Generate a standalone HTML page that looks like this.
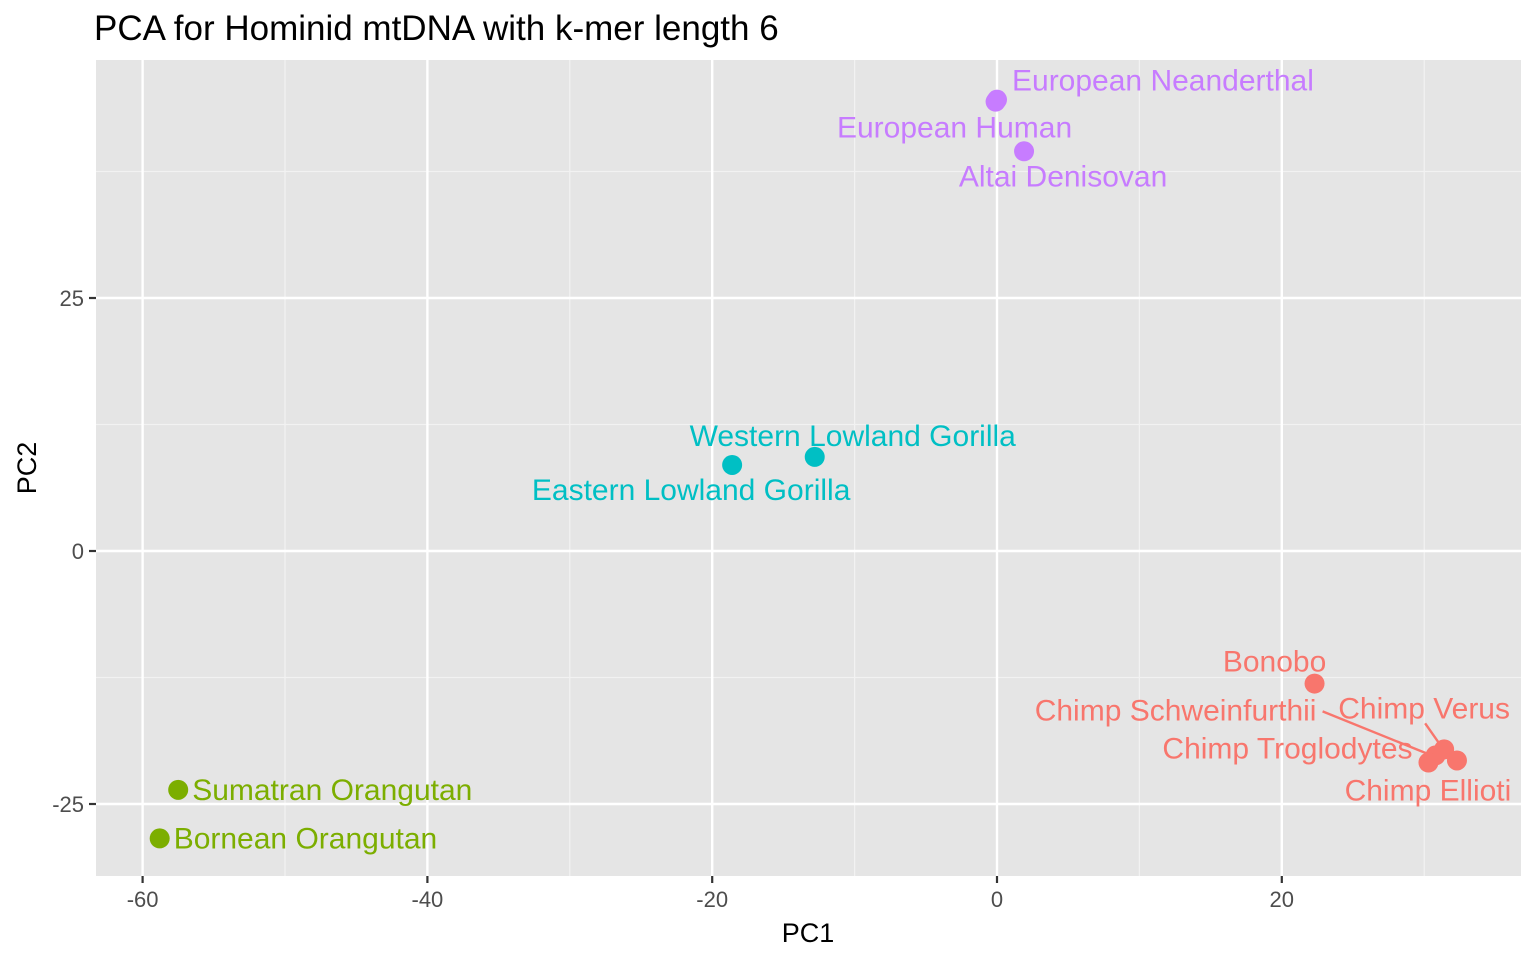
<!DOCTYPE html>
<html><head><meta charset="utf-8"><style>
body{margin:0;background:#fff;}
svg text{font-family:"Liberation Sans",Arial,sans-serif;}
</style></head><body>
<svg id="chart" width="1536" height="960" xmlns="http://www.w3.org/2000/svg">
<rect x="0" y="0" width="1536" height="960" fill="#fff"/>
<text x="94" y="40" font-size="35" fill="#000">PCA for Hominid mtDNA with k-mer length 6</text>
<rect x="96" y="60" width="1425" height="816" fill="#e5e5e5"/>
<g id="grid"></g>
<g id="axes"></g>
<g id="marks"></g>
<text x="808" y="942" font-size="27" text-anchor="middle" fill="#000">PC1</text>
<text transform="translate(36,468) rotate(-90)" font-size="27" text-anchor="middle" fill="#000">PC2</text>
</svg>
<script>
const names = ["European Neanderthal","European Human","Altai Denisovan","Western Lowland Gorilla","Eastern Lowland Gorilla","Bonobo","Chimp Verus","Chimp Schweinfurthii","Chimp Troglodytes","Chimp Ellioti","Sumatran Orangutan","Bornean Orangutan"];
const groups = ["human","human","human","gorilla","gorilla","chimp","chimp","chimp","chimp","chimp","orangutan","orangutan"];
const pc1 = [0.0,-0.1,1.9,-12.8,-18.6,22.3,31.4,30.8,30.3,32.3,-57.5,-58.8];
const pc2 = [44.6,44.4,39.5,9.3,8.5,-13.1,-19.6,-20.2,-20.9,-20.7,-23.6,-28.4];
const xTicks = [-60,-40,-20,0,20];
const yTicks = [-25,0,25];
const xMinor = [-50,-30,-10,10,30];
const yMinor = [-12.5,12.5,37.5];
const colors = {human:"#C77CFF",gorilla:"#00BFC4",chimp:"#F8766D",orangutan:"#7CAE00"};
// label placement (pixel offsets from point, anchor) — styling only
const labOff = [[15,-9,"start"],[-41,36,"middle"],[39,35,"middle"],[38,-11,"middle"],[-41,35,"middle"],[-40,-12,"middle"],[-20,-31,"middle"],[-260,-35,"middle"],[-141,-4,"middle"],[-29,40,"middle"],[14,10,"start"],[14,10,"start"]];
const segs = {6:[-19,-26,-5,-6], 7:[-113,-44,-9,-2]};

const X = v => 997 + v*14.24;
const Y = v => 551 - v*10.12;
const NS="http://www.w3.org/2000/svg";
function mk(tag, parent, attrs){const e=document.createElementNS(NS,tag);for(const k in attrs)e.setAttribute(k,attrs[k]);parent.appendChild(e);return e;}
const grid=document.getElementById('grid'), axes=document.getElementById('axes'), marks=document.getElementById('marks');
xMinor.forEach(v=>{const l=mk('line',grid,{x1:X(v),x2:X(v),y1:60,y2:876,stroke:'#f2f2f2','stroke-width':1.2});

});
yMinor.forEach(v=>{const l=mk('line',grid,{x1:96,x2:1521,y1:Y(v),y2:Y(v),stroke:'#f2f2f2','stroke-width':1.2});

});
xTicks.forEach(v=>{const l=mk('line',grid,{x1:X(v),x2:X(v),y1:60,y2:876,stroke:'#fff','stroke-width':2.4});


const t=mk('line',axes,{x1:X(v),x2:X(v),y1:876,y2:883,stroke:'#333','stroke-width':2.2});


const tx=mk('text',axes,{x:X(v),y:907,'font-size':22,'text-anchor':'middle',fill:'#4d4d4d'});tx.textContent=v;

});
yTicks.forEach(v=>{const l=mk('line',grid,{x1:96,x2:1521,y1:Y(v),y2:Y(v),stroke:'#fff','stroke-width':2.4});


const t=mk('line',axes,{x1:89,x2:96,y1:Y(v),y2:Y(v),stroke:'#333','stroke-width':2.2});


const tx=mk('text',axes,{x:84,y:Y(v)+8,'font-size':22,'text-anchor':'end',fill:'#4d4d4d'});tx.textContent=v;

});
names.forEach((n,i)=>{const px=X(pc1[i]),py=Y(pc2[i]),c=colors[groups[i]];
if(segs[i]){const s=segs[i];const l=mk('line',marks,{x1:px+s[0],y1:py+s[1],x2:px+s[2],y2:py+s[3],stroke:c,'stroke-width':2.4});

}
const p=mk('circle',marks,{cx:px,cy:py,r:10,fill:c});


});
names.forEach((n,i)=>{const px=X(pc1[i]),py=Y(pc2[i]),c=colors[groups[i]],o=labOff[i];
const t=mk('text',marks,{x:px+o[0],y:py+o[1],'font-size':30,'text-anchor':o[2],fill:c});t.textContent=n;

});
</script>
</body></html>
